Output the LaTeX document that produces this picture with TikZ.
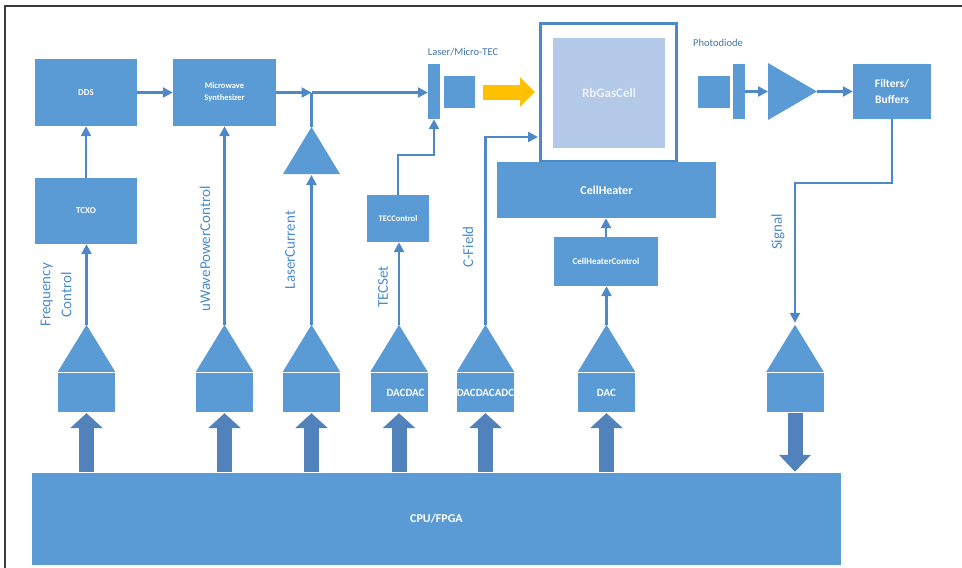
\documentclass[tikz,border=0pt]{standalone}
\usepackage{fontspec}
\setmainfont{Carlito}
\usetikzlibrary{arrows.meta,calc}
\definecolor{boxblue}{HTML}{5B9BD5}
\definecolor{arrowblue}{HTML}{5282BC}
\definecolor{lineblue}{HTML}{4F88C6}
\definecolor{labelblue}{HTML}{4A8BCB}
\definecolor{cellblue}{HTML}{B4C8E8}
\definecolor{laseryellow}{HTML}{FFC000}
\definecolor{framegray}{HTML}{3A3A3A}
\begin{document}
\begin{tikzpicture}[x=1pt,y=-1pt,
  box/.style={fill=boxblue, draw=none, inner sep=0pt, text=white, align=center},
  dacbox/.style={box, minimum width=57pt, minimum height=39pt},
  conn/.style={draw=lineblue, line width=2.4pt, -{Triangle[length=10pt,width=10pt]}},
  plainline/.style={draw=lineblue, line width=2.4pt},
  vlabel/.style={rotate=90, text=labelblue, font=\fontsize{15}{21}\selectfont, align=center, inner sep=0pt},
  toplabel/.style={text=labelblue!85!black, font=\fontsize{10.5}{12}\selectfont, inner sep=0pt},
  bigarrow/.style={draw=arrowblue, line width=15pt, -{Triangle[length=15pt,width=32pt]}},
  dactext/.style={text=white, font=\bfseries\fontsize{11}{13}\selectfont, inner sep=0pt},
]
\useasboundingbox (0,0) rectangle (962,568);
% frame
\draw[framegray, line width=1.3pt] (5,568) -- (5,6) -- (962,6);

% top chain
\node[box, minimum width=102pt, minimum height=67pt, font=\bfseries\fontsize{9}{11}\selectfont] (dds) at (86,92.5) {DDS};
\node[box, minimum width=103pt, minimum height=67pt, font=\bfseries\fontsize{8.5}{12}\selectfont] (synth) at (224.5,92.5) {Microwave\\Synthesizer};
\node[box, minimum width=102pt, minimum height=66pt, font=\bfseries\fontsize{9}{11}\selectfont] (tcxo) at (86,211) {TCXO};
\node[box, minimum width=12pt, minimum height=55pt] (laserbar) at (434,91.5) {};
\node[box, minimum width=31pt, minimum height=32pt] (laserbox) at (459.5,91.5) {};
\node[box, minimum width=62pt, minimum height=47pt, font=\bfseries\fontsize{8.5}{10}\selectfont] (tec) at (398,218.5) {TECControl};

% gas cell
\node[draw=lineblue, line width=2.6pt, fill=white, minimum width=136.5pt, minimum height=138pt, inner sep=0pt] (cellframe) at (608.5,92.5) {};
\node[fill=cellblue, minimum width=112pt, minimum height=110pt, inner sep=0pt, text=white!80!cellblue, font=\bfseries\fontsize{13}{15}\selectfont] (rb) at (609,93) {RbGasCell};
\node[box, minimum width=219pt, minimum height=56pt, font=\bfseries\fontsize{12}{14}\selectfont] (heater) at (606.5,190) {CellHeater};
\node[box, minimum width=104pt, minimum height=49pt, font=\bfseries\fontsize{9}{11}\selectfont] (chc) at (606,261.5) {CellHeaterControl};

% photodiode chain
\node[box, minimum width=32pt, minimum height=32pt] (pdbox) at (714,91.5) {};
\node[box, minimum width=12pt, minimum height=55pt] (pdbar) at (739,91.5) {};
\coordinate (ampRw) at (768,91.5);
\coordinate (ampRapex) at (817,91.5);
\fill[boxblue] (768,63) -- (ampRapex) -- (768,120) -- cycle;
\node[box, minimum width=78pt, minimum height=55pt, font=\bfseries\fontsize{11.5}{16}\selectfont] (filt) at (892,91.5) {Filters/\\Buffers};

% CPU
\node[box, minimum width=809pt, minimum height=92pt, font=\bfseries\fontsize{12}{14}\selectfont] (cpu) at (436.5,519) {CPU/FPGA};

% laser current amplifier
\coordinate (ampLapex) at (311.5,127);
\coordinate (ampLbase) at (311.5,174);
\fill[boxblue] (283,174) -- (ampLapex) -- (340,174) -- cycle;
\coordinate (junc) at (311.5,92.5);

% DAC / ADC units
\foreach \i/\x in {1/86.5,2/224.5,3/311.5,4/399,5/485.5,6/606.5,7/795}{
  \node[dacbox] (dac\i) at (\x,392.5) {};
  \coordinate (tip\i) at ($(dac\i.north)+(0,-48)$);
  \fill[boxblue] ($(dac\i.north west)+(0,-1)$) -- (tip\i) -- ($(dac\i.north east)+(0,-1)$) -- cycle;
}
\begin{scope}
  \clip (dac4.south west) rectangle (dac4.north east);
  \node[dactext, anchor=west] (dac4t) at ($(dac4.west)+(16,0)$) {DACDAC};
\end{scope}
\begin{scope}
  \clip (dac5.south west) rectangle (dac5.north east);
  \node[dactext] (dac5t) at (dac5.center) {DACDACADC};
\end{scope}
\node[dactext] (dac6t) at (dac6.center) {DAC};

% thick bus arrows
\foreach \i in {1,2,3,4,5,6}{
  \draw[bigarrow, shorten <=1pt, shorten >=1pt] (cpu.north -| dac\i.south) -- (dac\i.south);
}
\draw[draw=arrowblue, line width=15pt, -{Triangle[length=17pt,width=31pt]}, shorten <=1pt, shorten >=1pt] (dac7.south) -- (cpu.north -| dac7.south);

% connectors
\draw[conn] (tcxo.north) -- (dds.south);
\draw[conn] (dds.east) -- (synth.west);
\draw[conn] (synth.east) -- (junc);
\draw[conn] (junc) -- (junc -| laserbar.west);
\draw[plainline] (ampLapex) -- (junc);
\draw[conn, shorten >=1pt] (tip3) -- (ampLbase);
\draw[conn] (tip1) -- (tip1 |- tcxo.south);
\draw[conn] (tip2) -- (tip2 |- synth.south);
\draw[conn] (tip4) -- (tip4 |- tec.south);
\coordinate (tecc) at (434,155);
\draw[conn] (tec.north) |- (tecc) -- (laserbar.south);
\coordinate (cfc) at (538,137);
\draw[conn] (tip5) |- (cfc);
\draw[conn] (tip6) -- (tip6 |- chc.south);
\draw[conn] (chc.north) -- (chc.north |- heater.south);
\draw[conn] (pdbar.east) -- (ampRw);
\draw[conn] (ampRapex) -- (filt.west);
\coordinate (sigc) at (795,183);
\draw[conn, shorten >=2pt] (filt.south) |- (sigc) -- (tip7);

% laser beam
\coordinate (beamA) at (483,92);
\coordinate (beamB) at (535,92);
\draw[draw=laseryellow, line width=15pt, -{Triangle[length=15pt,width=29pt]}] (beamA) -- (beamB);

% labels
\node[toplabel] (llmt) at (463,52) {Laser/Micro-TEC};
\node[toplabel] (lpd) at (718,43) {Photodiode};
\node[vlabel] (lfreq) at (56,295) {Frequency\\Control};
\node[vlabel] (luwave) at (205,249) {uWavePowerControl};
\node[vlabel] (llaser) at (290,250) {LaserCurrent};
\node[vlabel] (ltec) at (383,287) {TECSet};
\node[vlabel] (lcf) at (468,247) {C-Field};
\node[vlabel] (lsig) at (778,232) {Signal};
\end{tikzpicture}
\end{document}
